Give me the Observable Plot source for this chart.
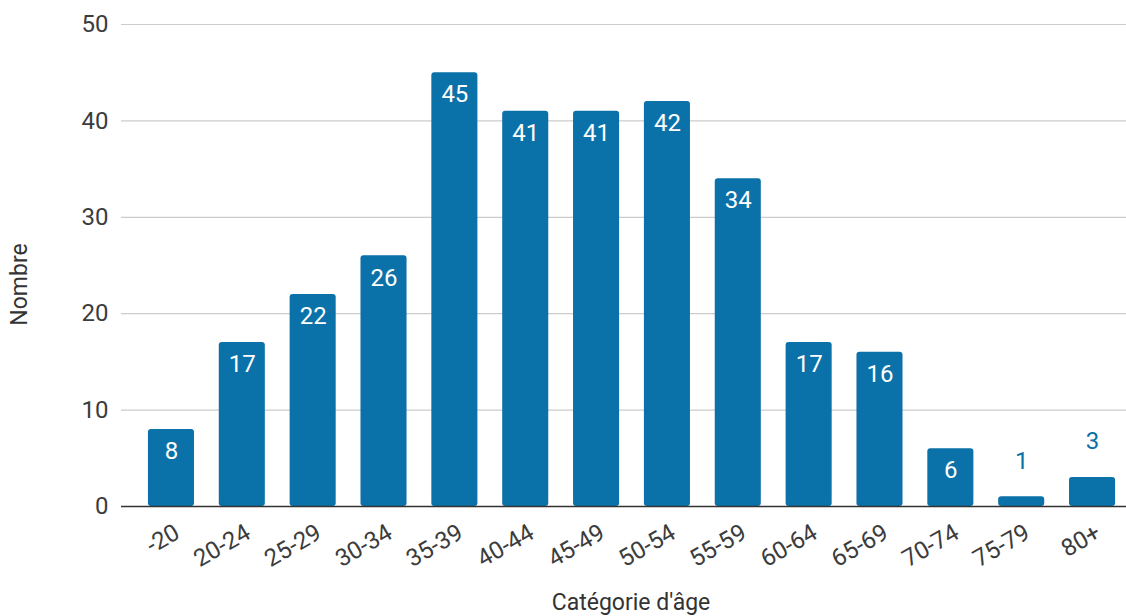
<!DOCTYPE html>
<html><head><meta charset="utf-8">
<script src="https://cdn.jsdelivr.net/npm/d3@7"></script>
<script src="https://cdn.jsdelivr.net/npm/@observablehq/plot@0.6"></script>
<style>body{margin:0;background:#fff}</style>
</head><body><div id="chart"></div>
<script>
const categories = ["-20","20-24","25-29","30-34","35-39","40-44","45-49","50-54","55-59","60-64","65-69","70-74","75-79","80+"];
const counts = [8,17,22,26,45,41,41,42,34,17,16,6,1,3];
const yTicks = [0,10,20,30,40,50];
const yTitle = "Nombre";
const xTitle = "Catégorie d'âge";
const data = categories.map((c,i)=>({cat:c, n:counts[i]}));
const blue = "#0a71a9";
const chart = Plot.plot({
  width:1126, height:616, marginTop:24, marginBottom:110, marginLeft:121, marginRight:0,
  style:{fontFamily:"Roboto", background:"#fff"},
  x:{type:"band", domain:categories, range:[121,1142], paddingInner:0.35, paddingOuter:0.38, round:false},
  y:{domain:[0,50], range:[506,24]},
  marks:[
    Plot.gridY(yTicks,{stroke:"#ccc", strokeOpacity:1, strokeWidth:1.2}),
    Plot.axisY(yTicks,{tickSize:0, tickPadding:13, fontSize:24, color:"#3c3c3c", label:null}),
    Plot.axisX({tickSize:0, tickRotate:-30, tickPadding:24, dx:6, fontSize:24, color:"#3c3c3c", label:null}),
    Plot.barY(data,{x:"cat", y:"n", fill:blue, rx:3}),
    Plot.ruleY([0],{stroke:"#333", strokeWidth:1.4}),
    Plot.text(data.filter(d=>d.n>=5),{x:"cat", y:"n", text:d=>String(d.n), dy:22, fill:"white", fontSize:24}),
    Plot.text(data.filter(d=>d.n<5),{x:"cat", y:"n", text:d=>String(d.n), dy:-36, fill:blue, fontSize:24}),
    Plot.text([yTitle],{frameAnchor:"left", dx:-102, dy:19, rotate:-90, textAnchor:"middle", lineAnchor:"middle", fontSize:23, fill:"#333"}),
    Plot.text([xTitle],{frameAnchor:"bottom", dx:7, dy:96, textAnchor:"middle", lineAnchor:"middle", fontSize:23, fill:"#333"})
  ]
});
document.getElementById("chart").append(chart);
</script>
</body></html>
